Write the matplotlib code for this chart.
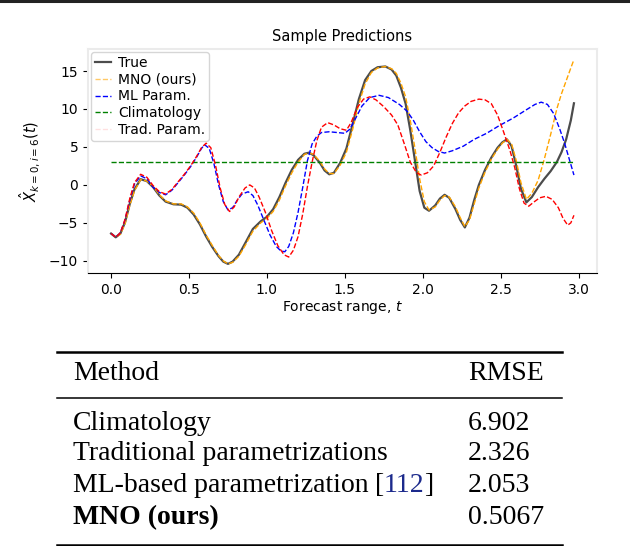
import matplotlib
matplotlib.use("Agg")
import matplotlib.pyplot as plt
from matplotlib.lines import Line2D
import numpy as np

# ---- chart data ----
t_true = [0.00, 0.03, 0.06, 0.09, 0.12, 0.15, 0.19, 0.23, 0.27, 0.31, 0.35, 0.40, 0.45, 0.49,
          0.53, 0.57, 0.61, 0.65, 0.69, 0.72, 0.75, 0.78, 0.82, 0.86, 0.91, 0.96, 1.00, 1.04,
          1.08, 1.12, 1.16, 1.20, 1.24, 1.27, 1.30, 1.34, 1.37, 1.40, 1.43, 1.47, 1.51, 1.55,
          1.59, 1.63, 1.67, 1.71, 1.76, 1.80, 1.83, 1.86, 1.89, 1.92, 1.95, 1.98, 2.01, 2.04,
          2.08, 2.11, 2.14, 2.17, 2.21, 2.24, 2.27, 2.30, 2.33, 2.36, 2.40, 2.44, 2.48, 2.51,
          2.54, 2.57, 2.60, 2.63, 2.665, 2.70, 2.74, 2.78, 2.82, 2.86, 2.89, 2.92, 2.95, 2.97]
y_true = [-6.4, -6.9, -6.4, -4.9, -2.5, -0.6, 0.75, 0.5, -0.3, -1.4, -2.2, -2.55, -2.6, -3.0,
          -3.9, -5.2, -6.8, -8.2, -9.4, -10.1, -10.4, -10.1, -9.2, -7.7, -5.8, -4.8, -4.2, -3.2,
          -1.6, 0.3, 2.0, 3.3, 4.1, 4.25, 3.9, 2.9, 1.9, 1.4, 1.6, 2.9, 4.8, 8.0,
          11.3, 13.8, 15.0, 15.5, 15.6, 15.2, 14.4, 12.8, 10.7, 7.2, 3.2, -0.8, -3.0, -3.4,
          -2.7, -1.8, -1.3, -1.7, -3.2, -4.6, -5.6, -4.3, -2.0, 0.0, 2.0, 3.6, 4.9, 5.6,
          6.0, 5.1, 2.5, -0.5, -2.3, -1.6, -0.3, 0.8, 1.8, 3.0, 4.3, 6.0, 8.5, 10.75]
y_mno = [-6.4, -6.9, -6.5, -5.1, -2.7, -0.8, 0.7, 0.5, -0.2, -1.3, -2.1, -2.5, -2.5, -2.9,
         -3.7, -5.0, -6.6, -8.0, -9.3, -10.0, -10.4, -10.2, -9.4, -8.0, -6.1, -5.0, -4.4, -3.5,
         -2.0, -0.1, 1.6, 3.0, 4.0, 4.25, 4.0, 3.1, 2.1, 1.5, 1.5, 2.6, 4.3, 7.3,
         10.7, 13.3, 14.8, 15.4, 15.6, 15.3, 14.7, 13.4, 11.6, 8.5, 4.8, 0.8, -2.2, -3.3,
         -2.9, -2.0, -1.4, -1.6, -2.9, -4.3, -5.5, -4.6, -2.5, -0.4, 1.7, 3.4, 4.7, 5.5,
         6.0, 5.4, 3.2, 0.3, -1.9, -1.1, 0.6, 3.4, 6.6, 10.0, 12.0, 13.7, 15.4, 16.5]

t_ml = [0.00, 0.03, 0.06, 0.09, 0.12, 0.15, 0.19, 0.23, 0.27, 0.31, 0.35, 0.39, 0.43, 0.47,
        0.51, 0.55, 0.58, 0.60, 0.63, 0.66, 0.69, 0.72, 0.75, 0.78, 0.81, 0.84, 0.88, 0.91,
        0.94, 0.98, 1.02, 1.06, 1.09, 1.115, 1.14, 1.17, 1.20, 1.23, 1.26, 1.29, 1.32, 1.35,
        1.40, 1.45, 1.50, 1.53, 1.57, 1.61, 1.66, 1.72, 1.78, 1.85, 1.90, 1.94, 1.98, 2.02,
        2.06, 2.10, 2.14, 2.19, 2.26, 2.33, 2.41, 2.49, 2.58, 2.665, 2.72, 2.76, 2.80, 2.84,
        2.88, 2.91, 2.94, 2.97]
y_ml = [-6.4, -6.9, -6.3, -4.6, -2.0, 0.1, 1.2, 0.8, -0.3, -1.0, -1.3, -0.7, 0.3, 1.3,
        2.4, 3.7, 4.8, 5.3, 4.8, 2.8, 0.0, -2.2, -3.3, -3.0, -2.0, -1.2, -0.9, -1.4,
        -2.6, -4.6, -6.6, -8.1, -8.7, -8.8, -8.1, -6.3, -3.6, -0.3, 3.2, 5.4, 6.4, 6.9,
        7.0, 6.9, 6.8, 7.3, 8.8, 10.4, 11.5, 11.8, 11.5, 10.6, 9.7, 8.5, 7.0, 5.7,
        4.9, 4.4, 4.2, 4.5, 5.1, 6.0, 6.8, 7.8, 8.8, 9.9, 10.6, 10.9, 10.6, 9.4,
        7.3, 5.5, 3.4, 1.3]

t_trad = [0.00, 0.03, 0.06, 0.09, 0.12, 0.15, 0.19, 0.23, 0.27, 0.31, 0.35, 0.39, 0.43, 0.47,
          0.51, 0.55, 0.58, 0.61, 0.64, 0.67, 0.70, 0.73, 0.76, 0.79, 0.82, 0.86, 0.89, 0.92,
          0.95, 0.99, 1.03, 1.07, 1.11, 1.14, 1.17, 1.20, 1.23, 1.26, 1.29, 1.32, 1.35, 1.39,
          1.43, 1.47, 1.51, 1.54, 1.58, 1.62, 1.66, 1.70, 1.75, 1.80, 1.84, 1.88, 1.92, 1.96,
          1.99, 2.03, 2.07, 2.11, 2.15, 2.19, 2.23, 2.27, 2.31, 2.36, 2.40, 2.44, 2.48, 2.52,
          2.56, 2.59, 2.62, 2.65, 2.68, 2.71, 2.75, 2.79, 2.83, 2.87, 2.90, 2.93, 2.95, 2.97]
y_trad = [-6.4, -6.9, -6.3, -4.5, -1.8, 0.3, 1.4, 1.0, -0.1, -0.9, -1.2, -0.6, 0.4, 1.4,
          2.5, 3.8, 4.9, 5.5, 4.9, 2.6, -0.4, -2.6, -3.5, -2.9, -1.6, -0.4, 0.0, -0.4,
          -1.6, -3.6, -6.0, -8.0, -9.2, -9.5, -8.6, -6.8, -3.8, -0.2, 3.0, 5.8, 7.6, 8.2,
          7.9, 7.4, 7.2, 8.2, 10.2, 11.3, 11.6, 11.2, 10.3, 9.2, 7.9, 5.5, 3.0, 1.6,
          1.3, 1.6, 2.5, 4.3, 6.3, 8.1, 9.5, 10.4, 11.0, 11.3, 11.2, 10.7, 9.2, 6.9,
          4.5, 2.3, -0.5, -2.4, -2.8, -2.3, -1.7, -1.5, -1.9, -3.0, -4.4, -5.3, -5.0, -4.0]

climatology = 3.0

x_ticks = [0.0, 0.5, 1.0, 1.5, 2.0, 2.5, 3.0]
y_ticks = [-10, -5, 0, 5, 10, 15]

# ---- table data ----
col_headers = ["Method", "RMSE"]
methods = ["Climatology", "Traditional parametrizations", "ML-based parametrization", "MNO (ours)"]
rmse = ["6.902", "2.326", "2.053", "0.5067"]
cite = "112"

W, H = 630, 546
fig = plt.figure(figsize=(W / 100, H / 100), dpi=100)

ax = fig.add_axes([88 / W, 1 - 273 / H, (597 - 88) / W, (273 - 49) / H])
ax.plot(t_true, y_true, color='k', alpha=0.7, lw=1.6, label='True')
ax.plot(t_true, y_mno, color='orange', ls='--', lw=1, label='MNO (ours)')
ax.plot(t_ml, y_ml, color='blue', ls='--', lw=1, label='ML Param.')
ax.plot(t_true, np.full(len(t_true), climatology), color='green', ls='--', lw=1, label='Climatology')
ax.plot(t_trad, y_trad, color='red', ls='--', lw=1, label='Trad. Param.')

ax.set_xlim(-0.148, 3.118)
ax.set_ylim(-11.6, 17.9)
ax.set_xticks(x_ticks)
ax.set_yticks(y_ticks)
ax.tick_params(labelsize=10)
for s in ['left', 'top', 'right']:
    ax.spines[s].set_color('#ebebeb')
    ax.spines[s].set_linewidth(1.5)
ax.spines['bottom'].set_color('black')

ax.set_title("Sample Predictions", fontsize=10.5)
ax.set_xlabel("Forecast range, $t$", fontsize=10, labelpad=2)
ax.set_ylabel(r"$\hat{X}_{k=0,i=6}(t)$", fontsize=10.5)

leg = ax.legend(loc='upper left', fontsize=10, labelspacing=0.2, handlelength=1.15,
                borderpad=0.3, handletextpad=0.5, borderaxespad=0.2)
leg.legend_handles[1].set_alpha(0.6)
leg.legend_handles[-1].set_alpha(0.12)

# ---- table below chart ----
def fy(py):
    return 1 - py / H

serif = "Liberation Serif"
fig.add_artist(Line2D([0, 1], [fy(1.2)] * 2, color='#222222', lw=2.2))
fig.add_artist(Line2D([57 / W, 562 / W], [fy(352)] * 2, color='black', lw=1.8))
fig.add_artist(Line2D([57 / W, 562 / W], [fy(398)] * 2, color='black', lw=1.1))
fig.add_artist(Line2D([57 / W, 562 / W], [fy(545)] * 2, color='black', lw=1.8))

fig.text(73 / W, fy(374), col_headers[0], family=serif, fontsize=20, va='center')
fig.text(468 / W, fy(374), col_headers[1], family=serif, fontsize=20, va='center')

row_y = [423, 454, 486, 518]
renderer = fig.canvas.get_renderer()
for i, (m, v) in enumerate(zip(methods, rmse)):
    bold = (i == len(methods) - 1)
    txt = fig.text(73 / W, fy(row_y[i]), m, family=serif, fontsize=20, va='center',
                   weight='bold' if bold else 'normal')
    fig.text(468 / W, fy(row_y[i]), v, family=serif, fontsize=20, va='center')
    if m.startswith("ML-based"):
        bb = txt.get_window_extent(renderer)
        t1 = fig.text(bb.x1 / W + 6 / W, fy(row_y[i]), "[", family=serif, fontsize=20, va='center')
        b1 = t1.get_window_extent(renderer)
        t2 = fig.text(b1.x1 / W, fy(row_y[i]), cite, family=serif, fontsize=20, va='center',
                      color='#1c2a8c')
        b2 = t2.get_window_extent(renderer)
        fig.text(b2.x1 / W, fy(row_y[i]), "]", family=serif, fontsize=20, va='center')

fig.savefig("out.png", dpi=100)
